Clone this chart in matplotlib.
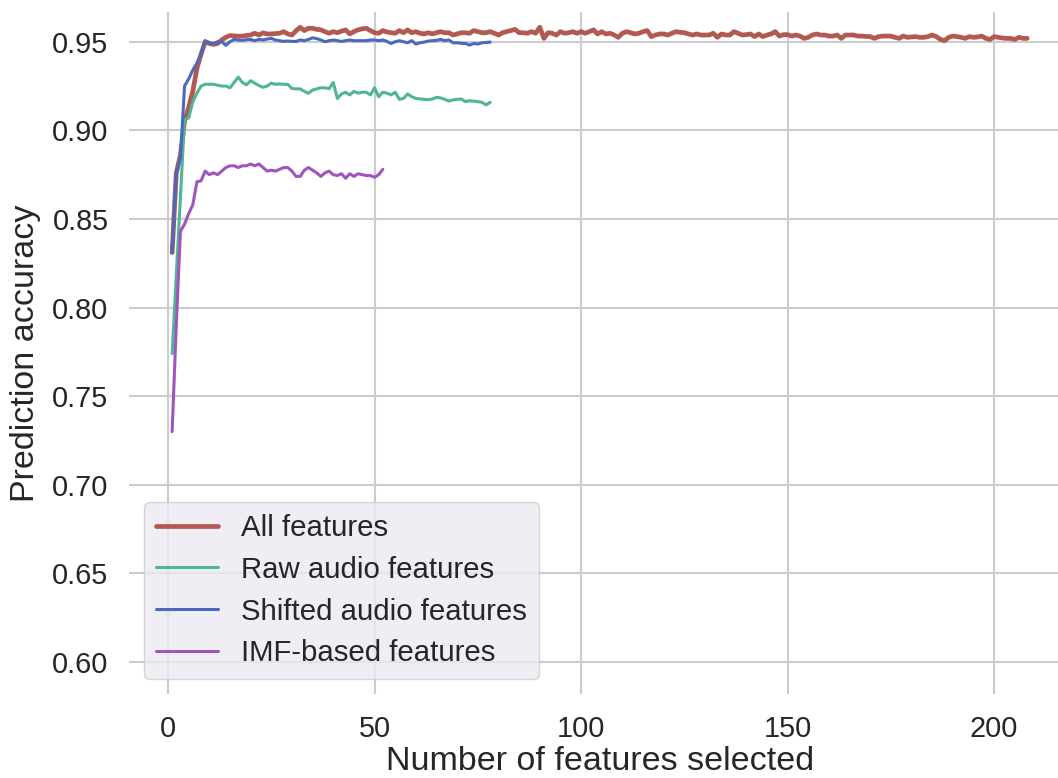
import matplotlib
matplotlib.use("Agg")
import matplotlib.pyplot as plt
import seaborn as sns

# accuracy vs number of selected features
all_acc = [
    0.831, 0.876, 0.886, 0.905, 0.913, 0.922, 0.935, 0.943, 0.950, 0.949,
    0.9485, 0.949, 0.951, 0.9525, 0.9535, 0.9533, 0.9531, 0.9532, 0.9536, 0.9538,
    0.9548, 0.9538, 0.955, 0.9544, 0.9544, 0.9546, 0.9548, 0.9557, 0.9544, 0.9538,
    0.9562, 0.9582, 0.9563, 0.9576, 0.9576, 0.957, 0.9567, 0.9557, 0.9548, 0.9557,
    0.9551, 0.956, 0.9567, 0.9544, 0.9557, 0.9567, 0.9573, 0.9576, 0.9563, 0.9551,
    0.9548, 0.9563, 0.9555, 0.9551, 0.9548, 0.9563, 0.9551, 0.9567, 0.9551, 0.9557,
    0.9548, 0.9544, 0.9551, 0.9544, 0.9551, 0.9557, 0.9551, 0.9551, 0.9538, 0.9544,
    0.9551, 0.9551, 0.9548, 0.9563, 0.9557, 0.9551, 0.9551, 0.9557, 0.9548, 0.9538,
    0.9551, 0.9557, 0.9563, 0.957, 0.9551, 0.9551, 0.9548, 0.9557, 0.9548, 0.9582,
    0.9519, 0.9551, 0.9548, 0.9538, 0.9557, 0.9548, 0.9551, 0.9557, 0.9548, 0.9557,
    0.9548, 0.9557, 0.9567, 0.9544, 0.9557, 0.9544, 0.9548, 0.9538, 0.9525, 0.9548,
    0.9557, 0.9551, 0.9544, 0.9548, 0.9557, 0.9563, 0.9529, 0.9538, 0.9544, 0.9544,
    0.9538, 0.9548, 0.9557, 0.9553, 0.9551, 0.9544, 0.9538, 0.9544, 0.9538, 0.9538,
    0.9538, 0.9548, 0.9525, 0.9544, 0.9538, 0.9538, 0.9557, 0.9548, 0.9538, 0.954,
    0.9544, 0.9529, 0.9544, 0.9529, 0.9538, 0.9544, 0.9557, 0.9532, 0.954, 0.954,
    0.9532, 0.9538, 0.9532, 0.9519, 0.9525, 0.9538, 0.9544, 0.9538, 0.9538, 0.9532,
    0.9532, 0.9538, 0.9519, 0.9538, 0.9538, 0.9538, 0.9532, 0.9532, 0.953, 0.9529,
    0.9519, 0.9529, 0.9532, 0.9532, 0.9532, 0.9525, 0.9519, 0.9532, 0.9525, 0.9527,
    0.9529, 0.9525, 0.9525, 0.9529, 0.9538, 0.9529, 0.9513, 0.9506, 0.9525, 0.9532,
    0.9529, 0.9525, 0.9519, 0.9529, 0.9525, 0.9527, 0.9532, 0.9519, 0.9513, 0.9529,
    0.9525, 0.9521, 0.9519, 0.9519, 0.9513, 0.9525, 0.9519, 0.9519,
]

raw_acc = [
    0.774, 0.818, 0.862, 0.906, 0.907, 0.916, 0.921, 0.925, 0.926, 0.926,
    0.926, 0.9255, 0.925, 0.925, 0.924, 0.927, 0.930, 0.927, 0.9257, 0.928,
    0.9266, 0.9253, 0.9243, 0.925, 0.9266, 0.926, 0.9262, 0.926, 0.9259, 0.9236,
    0.9234, 0.9234, 0.922, 0.9209, 0.9228, 0.9234, 0.924, 0.924, 0.9235, 0.927,
    0.918, 0.9205, 0.9215, 0.920, 0.922, 0.921, 0.9215, 0.9215, 0.920, 0.924,
    0.919, 0.9215, 0.921, 0.920, 0.9215, 0.9175, 0.918, 0.9205, 0.919, 0.918,
    0.9177, 0.9175, 0.9173, 0.9177, 0.9186, 0.9183, 0.9175, 0.9165, 0.9172, 0.9175,
    0.9177, 0.9162, 0.9167, 0.9165, 0.9162, 0.9158, 0.9144, 0.9158,
]

shifted_acc = [
    0.831, 0.876, 0.884, 0.925, 0.929, 0.934, 0.938, 0.943, 0.9506, 0.9494,
    0.949, 0.950, 0.950, 0.948, 0.950, 0.9513, 0.951, 0.9508, 0.9512, 0.9513,
    0.9506, 0.9513, 0.951, 0.9515, 0.9519, 0.951, 0.9506, 0.9502, 0.9504, 0.9502,
    0.9502, 0.951, 0.9506, 0.9513, 0.9522, 0.9518, 0.951, 0.950, 0.9506, 0.951,
    0.9506, 0.9502, 0.9506, 0.951, 0.9506, 0.9506, 0.9506, 0.9506, 0.951, 0.951,
    0.9506, 0.951, 0.9502, 0.949, 0.950, 0.9506, 0.950, 0.9494, 0.9506, 0.9487,
    0.9494, 0.9498, 0.9504, 0.9506, 0.9508, 0.9513, 0.9506, 0.951, 0.9494, 0.9494,
    0.9491, 0.949, 0.9481, 0.949, 0.9487, 0.9494, 0.9496, 0.9498,
]

imf_acc = [
    0.730, 0.790, 0.843, 0.847, 0.853, 0.858, 0.871, 0.8715, 0.877, 0.875,
    0.876, 0.875, 0.877, 0.879, 0.880, 0.880, 0.879, 0.880, 0.880, 0.881,
    0.880, 0.881, 0.879, 0.877, 0.8775, 0.877, 0.878, 0.879, 0.879, 0.877,
    0.874, 0.874, 0.8775, 0.879, 0.8775, 0.876, 0.874, 0.876, 0.877, 0.875,
    0.8745, 0.8755, 0.873, 0.8755, 0.874, 0.8755, 0.875, 0.8745, 0.8745, 0.8735,
    0.875, 0.878,
]

labels = ["All features", "Raw audio features", "Shifted audio features", "IMF-based features"]
colors = ["#b25a51", "#50b496", "#4c68be", "#a055be"]


def main():
    sns.set_style("whitegrid")
    plt.rcParams["font.family"] = ["Liberation Sans", "DejaVu Sans"]

    fig = plt.figure(figsize=(10.58, 7.78), dpi=100)
    ax = fig.add_axes([0.1223, 0.108, 0.889, 0.8766])

    series = [all_acc, raw_acc, shifted_acc, imf_acc]
    widths = [3.4, 2.2, 2.2, 2.2]
    for acc, lab, col, lw in zip(series, labels, colors, widths):
        xs = list(range(1, len(acc) + 1))
        ax.plot(xs, acc, color=col, linewidth=lw, label=lab)

    ax.set_xlim(-9.35, 218.35)
    ax.set_ylim(0.5819, 0.9668)
    ax.set_xticks([0, 50, 100, 150, 200])
    ax.set_yticks([0.60, 0.65, 0.70, 0.75, 0.80, 0.85, 0.90, 0.95])
    ax.set_yticklabels(["0.60", "0.65", "0.70", "0.75", "0.80", "0.85", "0.90", "0.95"])

    ax.grid(True, color="#cccccc", linewidth=1.5)
    for sp in ax.spines.values():
        sp.set_visible(False)
    ax.tick_params(axis="both", length=0, pad=15, labelsize=20.8, colors="#262626")

    ax.set_xlabel("Number of features selected", fontsize=24.5, color="#262626", labelpad=2)
    ax.set_ylabel("Prediction accuracy", fontsize=24.5, color="#262626", labelpad=8)

    leg = ax.legend(loc="lower left", fontsize=21.2, frameon=True, fancybox=True,
                    facecolor="#eaeaf2", edgecolor="#cccccc", framealpha=0.8,
                    labelspacing=0.47, handlelength=2.1)
    for t in leg.get_texts():
        t.set_color("#262626")

    fig.savefig("out.png", dpi=100)
    plt.close(fig)


if __name__ == "__main__":
    main()
